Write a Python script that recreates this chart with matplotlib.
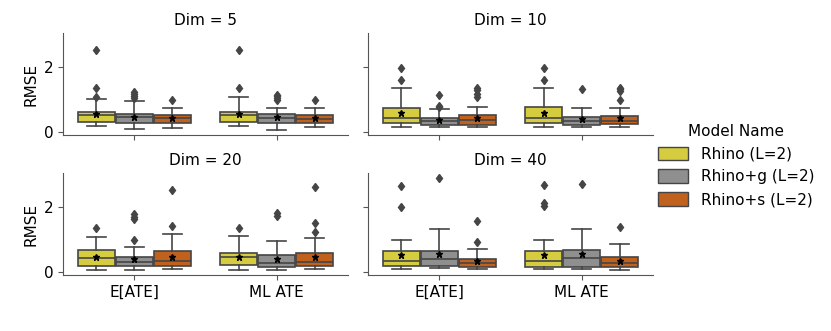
import matplotlib.pyplot as plt
from matplotlib.patches import Patch

dims = [5, 10, 20, 40]
estimators = ["E[ATE]", "ML ATE"]
models = ["Rhino (L=2)", "Rhino+g (L=2)", "Rhino+s (L=2)"]
colors = ["#d5cc40", "#8f8f8f", "#c0611d"]

# per panel: E[ATE] x 3 models, then ML ATE x 3 models
q1 = [
    [0.29, 0.27, 0.27, 0.29, 0.27, 0.27],
    [0.26, 0.22, 0.22, 0.26, 0.22, 0.24],
    [0.19, 0.18, 0.18, 0.21, 0.16, 0.19],
    [0.18, 0.18, 0.13, 0.16, 0.16, 0.15],
]
med = [
    [0.53, 0.44, 0.42, 0.53, 0.42, 0.40],
    [0.43, 0.32, 0.37, 0.43, 0.34, 0.34],
    [0.41, 0.29, 0.33, 0.44, 0.26, 0.31],
    [0.33, 0.39, 0.26, 0.34, 0.41, 0.26],
]
q3 = [
    [0.60, 0.55, 0.53, 0.62, 0.54, 0.53],
    [0.74, 0.43, 0.53, 0.76, 0.45, 0.49],
    [0.67, 0.47, 0.64, 0.59, 0.52, 0.57],
    [0.63, 0.65, 0.40, 0.63, 0.67, 0.46],
]
whislo = [
    [0.18, 0.09, 0.12, 0.18, 0.05, 0.14],
    [0.14, 0.14, 0.14, 0.14, 0.14, 0.14],
    [0.05, 0.05, 0.08, 0.05, 0.05, 0.07],
    [0.09, 0.12, 0.07, 0.08, 0.07, 0.04],
]
whishi = [
    [1.02, 0.94, 0.73, 1.07, 0.73, 0.73],
    [1.37, 0.69, 0.76, 1.37, 0.74, 0.74],
    [1.09, 0.78, 1.16, 1.12, 0.95, 1.04],
    [0.98, 1.33, 0.69, 0.98, 1.31, 0.86],
]
means = [
    [0.55, 0.47, 0.42, 0.55, 0.47, 0.42],
    [0.58, 0.37, 0.43, 0.58, 0.38, 0.43],
    [0.47, 0.39, 0.47, 0.47, 0.40, 0.47],
    [0.52, 0.54, 0.34, 0.52, 0.54, 0.33],
]
fliers = [
    [[2.53, 1.36, 1.08], [1.24, 1.17, 1.10, 1.05], [0.97],
     [2.53, 1.36], [1.15, 1.10, 1.04, 0.98], [0.97]],
    [[1.98, 1.61], [1.15, 0.80, 0.76], [1.35, 1.28, 1.18, 1.08],
     [1.98, 1.61], [1.33], [1.37, 1.32, 1.27, 0.99]],
    [[1.35], [1.78, 1.71, 1.64, 0.98], [2.54, 1.43],
     [1.35], [1.81, 1.73], [2.64, 1.52, 1.24]],
    [[2.67, 2.02], [2.92], [1.58, 0.91],
     [2.69, 2.12, 2.04], [2.72], [1.40]],
]

line_col = "#454545"
W, H = 831, 331
fig = plt.figure(figsize=(W / 100, H / 100), dpi=100)
plt.rcParams["font.size"] = 11

# axes boxes in pixels: (left, top)
ax_w, ax_h = 285, 102
corners = [(63, 33), (368, 33), (63, 173), (368, 173)]
axes = []
for k, (lx, ty) in enumerate(corners):
    rect = [lx / W, (H - ty - ax_h) / H, ax_w / W, ax_h / H]
    if axes:
        ax = fig.add_axes(rect, sharey=axes[0])
    else:
        ax = fig.add_axes(rect)
    axes.append(ax)

bw = 0.8 / 3
for k, ax in enumerate(axes):
    stats = []
    pos = []
    cols = []
    for i in range(2):
        for j in range(3):
            n = i * 3 + j
            stats.append(dict(q1=q1[k][n], med=med[k][n], q3=q3[k][n],
                              whislo=whislo[k][n], whishi=whishi[k][n],
                              mean=means[k][n], fliers=fliers[k][n]))
            pos.append(i + (j - 1) * bw)
            cols.append(colors[j])
    bp = ax.bxp(stats, positions=pos, widths=bw * 0.98, patch_artist=True,
                showmeans=True, manage_ticks=False,
                boxprops=dict(edgecolor=line_col, linewidth=1.2),
                medianprops=dict(color=line_col, linewidth=1.2),
                whiskerprops=dict(color=line_col, linewidth=1.2),
                capprops=dict(color=line_col, linewidth=1.2),
                meanprops=dict(marker="*", markerfacecolor="black",
                               markeredgecolor="black", markersize=5),
                flierprops=dict(marker="d", markerfacecolor=line_col,
                                markeredgecolor=line_col, markersize=4.5))
    for patch, c in zip(bp["boxes"], cols):
        patch.set_facecolor(c)
    ax.set_xlim(-0.5, 1.5)
    ax.set_xticks([0, 1])
    ax.set_yticks([0, 2])
    ax.set_title(f"Dim = {dims[k]}", fontsize=11, pad=6)
    ax.spines["top"].set_visible(False)
    ax.spines["right"].set_visible(False)
    for s in ["left", "bottom"]:
        ax.spines[s].set_color("#555555")
    ax.tick_params(colors="#555555", labelcolor="black", labelsize=11)
    if k < 2:
        ax.set_xticklabels([])
    else:
        ax.set_xticklabels(estimators)
    if k % 2 == 1:
        ax.tick_params(labelleft=False)
    else:
        ax.set_ylabel("RMSE", fontsize=11)

handles = [Patch(facecolor=c, edgecolor=line_col, linewidth=1.0) for c in colors]
fig.legend(handles, models, title="Model Name", loc="center left",
           bbox_to_anchor=(0.775, 0.5), frameon=False, fontsize=11,
           title_fontsize=11, handlelength=2.0, handleheight=1.0)

fig.savefig("out.png", dpi=100)
